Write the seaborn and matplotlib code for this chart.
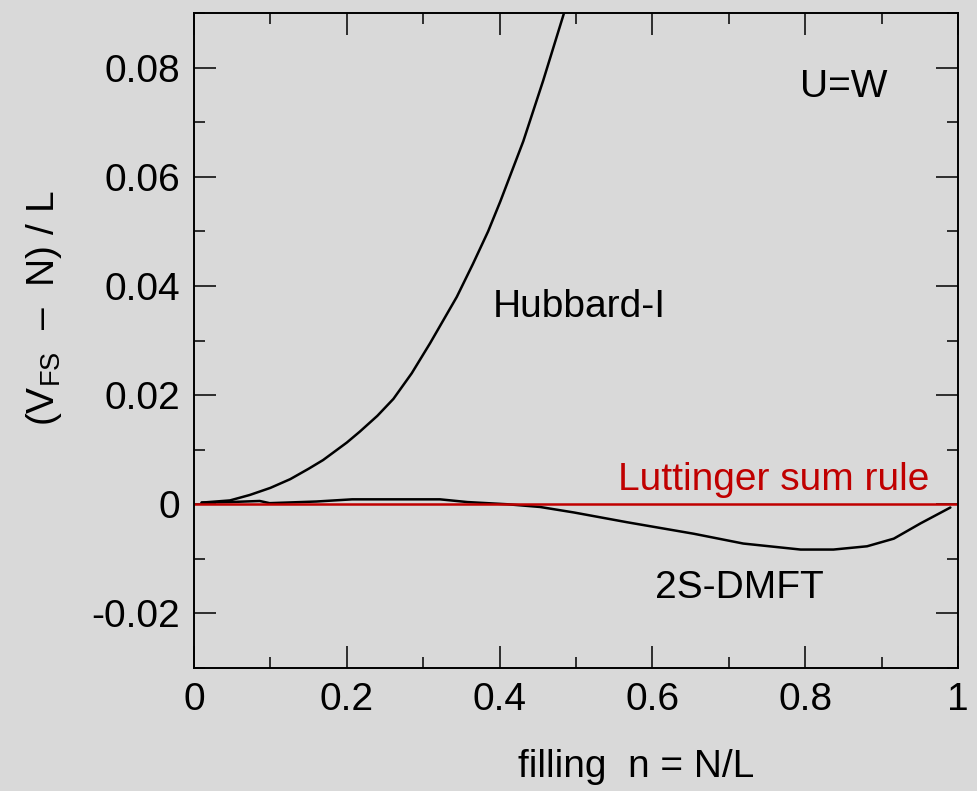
import numpy as np
import pandas as pd
import seaborn as sns
import matplotlib.pyplot as plt

# dados
hub_n = [0.010, 0.047, 0.073, 0.100, 0.126, 0.150, 0.169, 0.200, 0.217, 0.240, 0.261,
         0.285, 0.309, 0.344, 0.365, 0.385, 0.401, 0.431, 0.457, 0.485, 0.490]
hub_v = [0.0003, 0.0007, 0.0017, 0.0030, 0.0046, 0.0065, 0.0081, 0.0113, 0.0133, 0.0162, 0.0193,
         0.0240, 0.0295, 0.0380, 0.0440, 0.0500, 0.0555, 0.0665, 0.0776, 0.0903, 0.0925]

dmft_n = [0.010, 0.047, 0.086, 0.099, 0.160, 0.207, 0.322, 0.358, 0.410, 0.453,
          0.497, 0.567, 0.654, 0.719, 0.794, 0.837, 0.881, 0.916, 0.951, 0.990]
dmft_v = [0.0003, 0.0004, 0.0006, 0.0002, 0.0005, 0.0009, 0.0009, 0.0004, 0.0000, -0.0005,
          -0.0015, -0.0033, -0.0054, -0.0072, -0.0083, -0.0083, -0.0077, -0.0063, -0.0035, -0.0006]

lutt_n = [0.0, 1.0]
lutt_v = [0.0, 0.0]

bg = '#d9d9d9'
sns.set_style('ticks')
plt.rcParams['font.family'] = ['Liberation Sans', 'DejaVu Sans']
plt.rcParams['mathtext.fontset'] = 'custom'
plt.rcParams['mathtext.rm'] = 'Liberation Sans'
plt.rcParams['mathtext.it'] = 'Liberation Sans'
plt.rcParams['text.color'] = 'black'
plt.rcParams['axes.labelcolor'] = 'black'

fig = plt.figure(figsize=(9.77, 7.91), dpi=100, facecolor=bg)
ax = fig.add_axes([194 / 977, 1 - 668 / 791, 764 / 977, 655 / 791])
ax.set_facecolor(bg)

sns.lineplot(x=hub_n, y=hub_v, ax=ax, color='black', linewidth=1.8, sort=False)
sns.lineplot(x=dmft_n, y=dmft_v, ax=ax, color='black', linewidth=1.8, sort=False)
sns.lineplot(x=lutt_n, y=lutt_v, ax=ax, color='#c00000', linewidth=1.8, sort=False)

ax.set_xlim(0, 1)
ax.set_ylim(-0.03, 0.09)
ax.set_xticks([0, 0.2, 0.4, 0.6, 0.8, 1.0])
ax.set_xticklabels(['0', '0.2', '0.4', '0.6', '0.8', '1'])
ax.set_xticks(np.arange(0.1, 1.0, 0.2), minor=True)
ax.set_yticks([-0.02, 0, 0.02, 0.04, 0.06, 0.08])
ax.set_yticklabels(['-0.02', '0', '0.02', '0.04', '0.06', '0.08'])
ax.set_yticks([-0.03, -0.01, 0.01, 0.03, 0.05, 0.07, 0.09], minor=True)

ax.tick_params(which='both', direction='in', top=True, right=True, width=1.1,
               labelsize=28, colors='black')
ax.tick_params(which='major', length=15.5, pad=10)
ax.tick_params(which='minor', length=8)
for s in ax.spines.values():
    s.set_linewidth(1.4)
    s.set_color('black')

ax.set_xlabel('filling  n = N/L', fontsize=28)
ax.xaxis.set_label_coords(0.579, -0.124)
ax.set_ylabel(r'(V$_{\mathregular{FS}}$  –  N) / L', fontsize=28)
ax.yaxis.set_label_coords(-0.17, 0.55)

ax.text(0.85, 0.0747, 'U=W', fontsize=28, ha='center', va='baseline')
ax.text(0.5036, 0.0343, 'Hubbard-I', fontsize=28, ha='center', va='baseline')
ax.text(0.714, -0.0171, '2S-DMFT', fontsize=28, ha='center', va='baseline')
ax.text(0.759, 0.0026, 'Luttinger sum rule', fontsize=28, ha='center', va='baseline',
        color='#c00000')

fig.savefig('out.png', dpi=100, facecolor=bg)
